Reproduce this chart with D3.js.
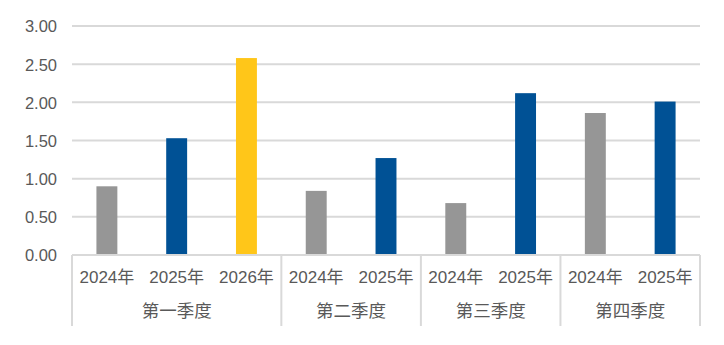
<!DOCTYPE html>
<html>
<head>
<meta charset="utf-8">
<script src="https://cdn.jsdelivr.net/npm/d3@7"></script>
<style>
  html, body { margin: 0; padding: 0; background: #fff; }
  text { font-family: "Liberation Sans", Arial, "Noto Sans CJK SC", sans-serif; fill: #595959; }
</style>
</head>
<body>
<svg id="chart" width="724" height="345"></svg>
<script>
// Quarterly values by year
const quarters = ["第一季度", "第二季度", "第三季度", "第四季度"];
const years = [
  ["2024年", "2025年", "2026年"],
  ["2024年", "2025年"],
  ["2024年", "2025年"],
  ["2024年", "2025年"]
];
const values = [
  [0.90, 1.53, 2.58],
  [0.84, 1.27],
  [0.68, 2.12],
  [1.86, 2.01]
];
const yTicks = [0, 0.5, 1, 1.5, 2, 2.5, 3];
const yearColors = { "2024年": "#969696", "2025年": "#005195", "2026年": "#FFC619" };

// Flatten into one row per bar
const rows = [];
quarters.forEach((q, qi) => {
  years[qi].forEach((y, yi) => {
    rows.push({ key: q + "|" + y, quarter: q, qi, year: y, value: values[qi][yi] });
  });
});

const svg = d3.select("#chart");
const plotLeft = 72, plotRight = 700, plotTop = 26, plotBottom = 255;

const x = d3.scaleBand().domain(rows.map(d => d.key)).range([plotLeft, plotRight]).padding(0);
const y = d3.scaleLinear().domain([0, 3]).range([plotBottom, plotTop]);

// Gridlines
svg.append("g")
  .selectAll("line")
  .data(yTicks)
  .join("line")
  .attr("x1", plotLeft).attr("x2", plotRight)
  .attr("y1", d => y(d)).attr("y2", d => y(d))
  .attr("stroke", "#d9d9d9").attr("stroke-width", 2);

// Y axis labels
const yAxis = d3.axisLeft(y).tickValues(yTicks).tickFormat(d3.format(".2f")).tickSize(0).tickPadding(0);
const gy = svg.append("g").attr("transform", `translate(${plotLeft - 15},0)`).call(yAxis);
gy.select(".domain").remove();
gy.selectAll("text").attr("font-size", 16.5).style("font-family", '"Liberation Sans", Arial, sans-serif').attr("fill", "#595959").attr("dy", "0.36em");

// Bars
const barW = x.bandwidth() * 0.3;
svg.append("g")
  .selectAll("rect")
  .data(rows)
  .join("rect")
  .attr("x", d => x(d.key) + (x.bandwidth() - barW) / 2)
  .attr("width", barW)
  .attr("y", d => y(d.value))
  .attr("height", d => y(0) - y(d.value))
  .attr("fill", d => yearColors[d.year]);

// Category axis: baseline, group separators, labels
const axisG = svg.append("g");
axisG.append("line")
  .attr("x1", plotLeft).attr("x2", plotRight)
  .attr("y1", plotBottom).attr("y2", plotBottom)
  .attr("stroke", "#d9d9d9").attr("stroke-width", 2);

const groupBounds = quarters.map((q, qi) => {
  const keys = rows.filter(r => r.qi === qi).map(r => r.key);
  return { quarter: q, x0: x(keys[0]), x1: x(keys[keys.length - 1]) + x.bandwidth() };
});
const seps = [groupBounds[0].x0].concat(groupBounds.map(g => g.x1));
axisG.selectAll("line.sep")
  .data(seps)
  .join("line")
  .attr("class", "sep")
  .attr("x1", d => d).attr("x2", d => d)
  .attr("y1", plotBottom).attr("y2", 326)
  .attr("stroke", "#d9d9d9").attr("stroke-width", 2);

axisG.selectAll("text.year")
  .data(rows)
  .join("text")
  .attr("class", "year")
  .attr("x", d => x(d.key) + x.bandwidth() / 2)
  .attr("y", 283)
  .attr("text-anchor", "middle")
  .attr("font-size", 17)
  .text(d => d.year);

axisG.selectAll("text.quarter")
  .data(groupBounds)
  .join("text")
  .attr("class", "quarter")
  .attr("x", d => (d.x0 + d.x1) / 2)
  .attr("y", 317)
  .attr("text-anchor", "middle")
  .attr("font-size", 17.5)
  .text(d => d.quarter);
</script>
</body>
</html>
